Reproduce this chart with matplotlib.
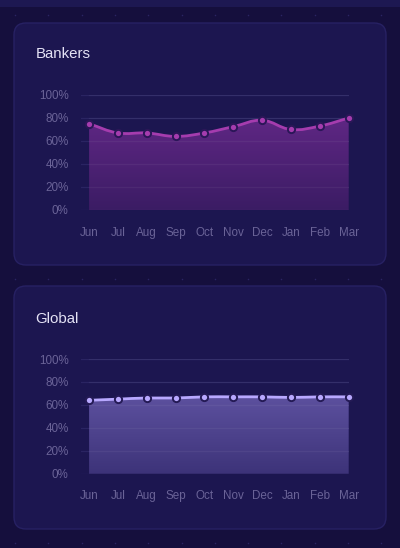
import numpy as np
import matplotlib
matplotlib.use("Agg")
import matplotlib.pyplot as plt
from matplotlib.patches import FancyBboxPatch, PathPatch, Rectangle
from matplotlib.path import Path

plt.rcParams["font.family"] = ["Liberation Sans", "DejaVu Sans"]

months = ["Jun", "Jul", "Aug", "Sep", "Oct", "Nov", "Dec", "Jan", "Feb", "Mar"]
bankers = [75, 67, 67, 64, 67, 72.5, 78, 70, 73, 80]
global_vals = [64, 65, 66, 66, 67, 67, 67, 66.5, 67, 67]
yticks = [0, 20, 40, 60, 80, 100]
ytick_labels = ["0%", "20%", "40%", "60%", "80%", "100%"]
titles = ["Bankers", "Global"]

W, H = 400, 548
BG = "#150f3d"
CARD = "#1c1650"
fig = plt.figure(figsize=(W / 100, H / 100), dpi=100)
fig.patch.set_facecolor(BG)

# background layer
bg = fig.add_axes([0, 0, 1, 1])
bg.set_xlim(0, W)
bg.set_ylim(H, 0)
bg.axis("off")
bg.add_patch(Rectangle((0, 0), W, 7, facecolor="#1d1852", edgecolor="none"))
dx = np.arange(15, W, 33.3)
dy = np.arange(15, H, 33)
gx, gy = np.meshgrid(dx, dy)
bg.scatter(gx.ravel(), gy.ravel(), s=1.2, color="#2a2463", linewidths=0)

cards = [(14, 23, 372, 242), (14, 286, 372, 243)]
for (cx, cy, cw, ch) in cards:
    bg.add_patch(FancyBboxPatch((cx, cy), cw, ch,
                                boxstyle="round,pad=0,rounding_size=12",
                                facecolor=CARD, edgecolor="#272163", linewidth=1.0))

configs = [
    dict(vals=bankers, title_y=54, top=95, bottom=210,
         line="#a53cae", fill_top="#5f2784", fill_bot="#3b1c64",
         mface="#a53cae", medge="#2b1658"),
    dict(vals=global_vals, title_y=319, top=359, bottom=473.7,
         line="#b8a8ff", fill_top="#5c509e", fill_bot="#3d3379",
         mface="#b8a8ff", medge="#241a55"),
]

left_px, right_px = 81, 348.7
xl = -0.28
for name, cfg in zip(titles, configs):
    bg.text(35.5, cfg["title_y"], name, fontsize=10.8, color="#e4e2f5",
            va="center", ha="left")
    ax = fig.add_axes([left_px / W, 1 - cfg["bottom"] / H,
                       (right_px - left_px) / W, (cfg["bottom"] - cfg["top"]) / H])
    ax.set_facecolor("none")
    ax.set_xlim(xl, len(months) - 1)
    ax.set_ylim(0, 100)
    for s in ax.spines.values():
        s.set_visible(False)
    ax.set_yticks(yticks)
    ax.set_yticklabels(ytick_labels)
    ax.set_xticks(range(len(months)))
    ax.set_xticklabels(months)
    ax.tick_params(length=0, colors="#6a6397", labelsize=8.4)
    ax.tick_params(axis="y", pad=9)
    ax.tick_params(axis="x", pad=12)
    for t in yticks:
        ax.axhline(t, color="#2a2462", lw=0.9, zorder=1)
        ax.axhline(t, color="white", alpha=0.05, lw=0.9, zorder=3,
                   xmin=-xl / (len(months) - 1 - xl))

    x = np.arange(len(months), dtype=float)
    y = np.asarray(cfg["vals"], dtype=float)
    fig.canvas.draw()
    pts = ax.transData.transform(np.column_stack([x, y]))
    n = len(pts)
    tension = 0.4
    cps_prev = np.zeros_like(pts)
    cps_next = np.zeros_like(pts)
    for i in range(n):
        p0 = pts[i - 1] if i > 0 else pts[i]
        p1 = pts[i]
        p2 = pts[i + 1] if i < n - 1 else pts[i]
        d01 = np.hypot(*(p1 - p0))
        d12 = np.hypot(*(p2 - p1))
        tot = d01 + d12
        s01 = d01 / tot if tot else 0
        s12 = d12 / tot if tot else 0
        fa, fb = tension * s01, tension * s12
        cps_prev[i] = p1 - fa * (p2 - p0)
        cps_next[i] = p1 + fb * (p2 - p0)
    inv = ax.transData.inverted()
    cps_prev = inv.transform(cps_prev)
    cps_next = inv.transform(cps_next)
    verts = [(x[0], y[0])]
    codes = [Path.MOVETO]
    for i in range(n - 1):
        verts += [tuple(cps_next[i]), tuple(cps_prev[i + 1]), (x[i + 1], y[i + 1])]
        codes += [Path.CURVE4] * 3
    line_path = Path(verts, codes)
    fverts = verts + [(x[-1], 0), (x[0], 0), (x[0], y[0])]
    fcodes = codes + [Path.LINETO, Path.LINETO, Path.CLOSEPOLY]
    fill_path = Path(fverts, fcodes)

    top = max(y)
    c1 = np.array(matplotlib.colors.to_rgb(cfg["fill_top"]))
    c2 = np.array(matplotlib.colors.to_rgb(cfg["fill_bot"]))
    tt = np.linspace(0, 1, 256)[:, None]
    grad = (c1 * (1 - tt) + c2 * tt)[:, None, :]
    im = ax.imshow(grad, extent=[x[0], x[-1], 0, top], origin="upper",
                   aspect="auto", zorder=2, interpolation="bilinear")
    clip = PathPatch(fill_path, transform=ax.transData, facecolor="none", edgecolor="none")
    ax.add_patch(clip)
    im.set_clip_path(clip)
    ax.set_xlim(xl, len(months) - 1)
    ax.set_ylim(0, 100)

    ax.add_patch(PathPatch(line_path, facecolor="none", edgecolor=cfg["line"],
                           lw=2.0, zorder=4, clip_on=False, capstyle="round"))
    ax.plot(x, y, "o", ms=5.2, mfc=cfg["mface"], mec=cfg["medge"], mew=1.4,
            zorder=5, clip_on=False)

fig.savefig("out.png", dpi=100, facecolor=BG)
